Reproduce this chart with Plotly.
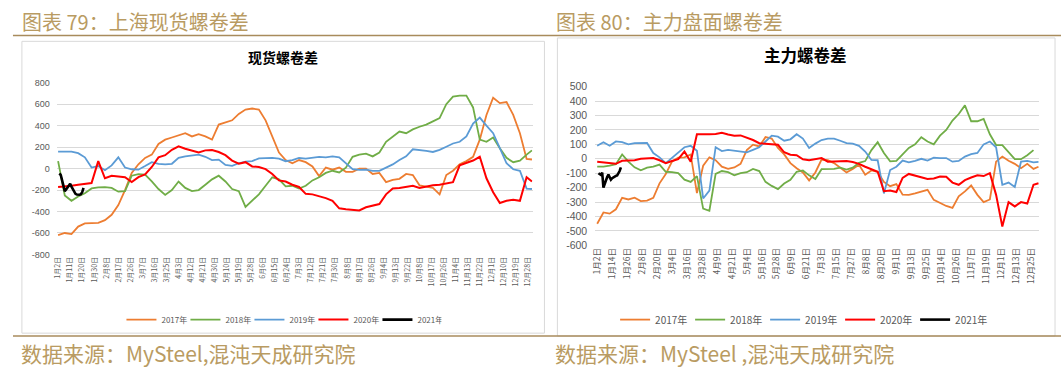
import datetime as dt
import plotly.graph_objects as go

W, H = 1061, 374

# ---------------- categories (calendar days, holidays removed) ----------------
excluded = {(1, 28), (5, 1)} | {(10, d) for d in range(1, 8)}
cats = []
_d = dt.date(2019, 1, 2)
while _d.year == 2019:
    if (_d.month, _d.day) not in excluded:
        cats.append(f"{_d.month}月{_d.day}日")
    _d += dt.timedelta(days=1)

left_ticks = ["1月2日", "1月11日", "1月20日", "1月30日", "2月8日", "2月17日", "2月26日", "3月7日",
              "3月16日", "3月25日", "4月3日", "4月12日", "4月21日", "4月30日", "5月10日", "5月19日",
              "5月28日", "6月6日", "6月15日", "6月24日", "7月3日", "7月12日", "7月21日", "7月30日",
              "8月8日", "8月17日", "8月26日", "9月4日", "9月13日", "9月22日", "10月8日", "10月17日",
              "10月26日", "11月4日", "11月13日", "11月22日", "12月1日", "12月10日", "12月19日", "12月28日"]
right_ticks = ["1月2日", "1月14日", "1月26日", "2月8日", "2月20日", "3月4日", "3月16日", "3月28日",
               "4月9日", "4月21日", "5月4日", "5月16日", "5月28日", "6月9日", "6月21日", "7月3日",
               "7月15日", "7月27日", "8月8日", "8月20日", "9月1日", "9月13日", "9月25日", "10月14日",
               "10月26日", "11月7日", "11月19日", "12月1日", "12月13日", "12月25日"]

grid = cats[::5] + [cats[-1]]      # sampling dates for 2017-2020
grid21 = cats[1:20]                # sampling dates for 2021

years = ["2017年", "2018年", "2019年", "2020年", "2021年"]
colors = ["#ED7D31", "#70AD47", "#5B9BD5", "#FF0000", "#000000"]

# ---------------- 现货螺卷差 (left) ----------------
spot_2017 = [-620, -600, -610, -540, -510, -510, -505, -480, -430, -340,
             -200, -40, 40, 100, 130, 230, 270, 290, 310, 330,
             300, 320, 300, 270, 410, 430, 450, 510, 550, 560,
             550, 450, 300, 150, 80, 50, 80, 60, 20, -70,
             10, -10, 10, -30, -30, 0, 0, -50, -40, -126,
             -105, -95, -50, -60, -156, -165, -180, -240, -60, -20,
             40, 70, 110, 270, 500, 660, 610, 620, 500, 330,
             90, 85]
spot_2018 = [70, -250, -300, -260, -230, -185, -175, -172, -180, -215,
             -210, -66, -51, -55, -120, -190, -245, -200, -120, -180,
             -210, -200, -150, -100, -66, -120, -190, -210, -357, -300,
             -240, -160, -81, -100, -165, -160, -185, -160, -110, -80,
             -40, -20, -36, 9, 110, 130, 140, 114, 150, 250,
             300, 345, 330, 365, 390, 410, 440, 470, 600, 670,
             680, 680, 570, 270, 250, 290, 190, 100, 60, 75,
             130, 170]
spot_2019 = [159, 159, 159, 144, 105, 10, 24, -15, 30, 105,
             10, -6, -10, 24, 60, 45, 39, 45, 100, 114,
             125, 130, 110, 80, 84, 35, 25, 50, 65, 70,
             95, 99, 100, 93, 69, 80, 99, 93, 100, 110,
             105, 114, 105, 54, -6, -12, -10, -21, -21, 9,
             39, 80, 114, 180, 174, 165, 155, 174, 204, 234,
             250, 300, 420, 475, 400, 330, 190, 50, -6, -20,
             -186, -190]
spot_2020 = [-171, -168, -160, -150, -140, -135, 70, -90, -66, -75,
             -81, -126, -80, -55, 15, 105, 125, 175, 207, 185,
             165, 150, 170, 174, 155, 125, 75, 45, 60, 20,
             15, -5, -50, -110, -120, -150, -171, -235, -240, -255,
             -275, -300, -370, -378, -385, -390, -360, -345, -330, -240,
             -186, -180, -171, -160, -180, -165, -156, -150, -141, -126,
             30, 50, 75, 110, -90, -220, -320, -300, -290, -300,
             -80, -120]
spot_2021 = [-45, -60, -110, -156, -210, -195, -180, -160, -141, -168,
             -190, -215, -235, -242, -246, -243, -238, -220, -180]

# ---------------- 主力螺卷差 (right) ----------------
fut_2017 = [-450, -372, -380, -350, -271, -282, -270, -293, -290, -270,
            -170, -105, -20, 8, 10, 30, -238, -48, 10, -10,
            -55, -70, -60, -35, 60, 98, 86, 150, 140, 75,
            30, -30, -65, -95, -150, -95, -5, -10, -30, -65,
            -95, -70, -42, -110, -81, -90, -160, -190, -175, -249,
            -250, -240, -226, -215, -285, -305, -327, -340, -260, -226,
            -185, -250, -300, -282, -20, 15, -14, -35, -65, -35,
            -70, -55]
fut_2018 = [-55, -55, -48, -37, 30, -20, -59, -80, -62, -55,
            -40, -90, -93, -100, -145, -160, -120, -345, -360, -105,
            -85, -93, -115, -100, -93, -70, -85, -160, -188, -210,
            -172, -145, -90, -81, -115, -140, -72, -70, -70, -62,
            -75, -62, -28, -16, 60, 115, 40, -18, -14, 30,
            75, 100, 150, 120, 100, 160, 200, 265, 310, 370,
            260, 260, 276, 170, 95, 95, 42, -3, -3, 25,
            60, None]
fut_2019 = [90, 115, 90, 120, 115, 100, 108, 110, 110, 40,
            10, -30, 5, 45, 80, 90, 55, -275, -220, 80,
            53, 62, 55, 53, 45, 62, 80, 120, 160, 153,
            125, 135, 170, 140, 75, 105, 130, 140, 140, 125,
            108, 105, 90, 50, -8, -10, -240, -78, -55, -12,
            -25, -14, 0, -12, 8, 5, 5, -20, -15, 15,
            32, 40, 100, 120, 80, -180, -165, -195, -20, -15,
            -25, -22]
fut_2020 = [-20, -25, -30, -35, -14, -14, -10, 0, 3, 5,
            -10, -30, -15, -3, 50, -20, 170, 168, 170, 172,
            180, 168, 160, 162, 148, 130, 108, 104, 100, 97,
            45, 28, 25, -3, -10, -3, 5, -20, -20, -20,
            -15, -22, -35, -55, -72, -90, -225, -220, -230, -132,
            -105, -118, -126, -140, -137, -123, -125, -165, -180, -148,
            -130, -115, -120, -100, -250, -470, -300, -330, -300, -310,
            -180, -170]
fut_2021 = [-100, -110, -112, -95, -200, -175, -140, -126, -110, -125,
            -145, -135, -128, -122, -118, -115, -104, -85, -60]

spot_series = [spot_2017, spot_2018, spot_2019, spot_2020, spot_2021]
fut_series = [fut_2017, fut_2018, fut_2019, fut_2020, fut_2021]
widths = [1.8, 1.8, 1.8, 2.0, 2.6]

GOLD = "#B99B62"
GOLDLINE = "#A88B5C"
GRAY = "#595959"
CJK = "Noto Sans CJK SC"


def px(x):
    return x / W


def py(y):
    return 1 - y / H


fig = go.Figure()
for i, (name, col) in enumerate(zip(years, colors)):
    xs = grid21 if i == 4 else grid
    fig.add_trace(go.Scatter(x=xs, y=spot_series[i], name=name, mode="lines",
                             line=dict(color=col, width=widths[i]),
                             xaxis="x", yaxis="y", legend="legend"))
for i, (name, col) in enumerate(zip(years, colors)):
    xs = grid21 if i == 4 else grid
    fig.add_trace(go.Scatter(x=xs, y=fut_series[i], name=name, mode="lines",
                             line=dict(color=col, width=widths[i]),
                             xaxis="x2", yaxis="y2", legend="legend2"))

left_y = list(range(-800, 801, 200))
right_y = list(range(-600, 501, 100))

fig.update_layout(
    width=W, height=H,
    margin=dict(l=0, r=0, t=0, b=0),
    paper_bgcolor="white", plot_bgcolor="rgba(0,0,0,0)",
    font=dict(family=CJK, color=GRAY),
    xaxis=dict(domain=[px(52), px(530)], type="category", categoryorder="array",
               categoryarray=cats, range=[-1, 354.4], tickmode="array",
               tickvals=left_ticks, ticktext=left_ticks, tickangle=-90,
               tickfont=dict(size=7, color=GRAY, family=CJK), showgrid=False,
               zeroline=False, showline=False, ticks="", anchor="y"),
    yaxis=dict(domain=[py(256.7), py(79.3)], range=[-800, 800], tickmode="array",
               tickvals=left_y, ticktext=[str(v) for v in left_y],
               tickfont=dict(size=9, color=GRAY, family="Liberation Sans"),
               gridcolor="#D9D9D9", gridwidth=1, zeroline=False, showline=False,
               ticks="", ticklabelstandoff=6, anchor="x"),
    xaxis2=dict(domain=[px(593), px(1039)], type="category", categoryorder="array",
                categoryarray=cats, range=[-1.6, 354.5], tickmode="array",
                tickvals=right_ticks, ticktext=right_ticks, tickangle=-90,
                tickfont=dict(size=8.5, color=GRAY, family=CJK), showgrid=False,
                zeroline=False, showline=False, ticks="", anchor="y2"),
    yaxis2=dict(domain=[py(247.3), py(83.3)], range=[-600, 500], tickmode="array",
                tickvals=right_y, ticktext=[str(v) for v in right_y],
                tickfont=dict(size=10.5, color=GRAY, family="Liberation Sans"),
                gridcolor="#D9D9D9", gridwidth=1, zeroline=False, showline=False,
                ticks="", ticklabelstandoff=7, anchor="x2"),
    legend=dict(orientation="h", x=px(117), y=py(324), xanchor="left", yanchor="middle",
                font=dict(size=8, color=GRAY, family=CJK), itemwidth=30,
                entrywidth=19, entrywidthmode="pixels", bgcolor="rgba(0,0,0,0)"),
    legend2=dict(orientation="h", x=px(613), y=py(324), xanchor="left", yanchor="middle",
                 font=dict(size=10, color=GRAY, family=CJK), itemwidth=30,
                 entrywidth=30, entrywidthmode="pixels", bgcolor="rgba(0,0,0,0)"),
    showlegend=True,
    hovermode=False,
)

shapes = [
    dict(type="rect", xref="paper", yref="paper", x0=px(17), x1=px(542), y0=py(338), y1=py(36.5),
         line=dict(color="#D9D9D9", width=1), fillcolor="rgba(0,0,0,0)", layer="below"),
    dict(type="rect", xref="paper", yref="paper", x0=px(555), x1=px(1055), y0=py(341), y1=py(33),
         line=dict(color="#D9D9D9", width=1), fillcolor="rgba(0,0,0,0)", layer="below"),
    dict(type="line", xref="paper", yref="paper", x0=px(8), x1=px(1061), y0=py(30.5), y1=py(30.5),
         line=dict(color=GOLDLINE, width=1.5)),
    dict(type="line", xref="paper", yref="paper", x0=px(8), x1=px(1061), y0=py(341), y1=py(341),
         line=dict(color=GOLDLINE, width=1.5)),
]
fig.update_layout(shapes=shapes)

ann = [
    dict(text="图表 79：上海现货螺卷差", x=px(15), y=py(15.5), font=dict(size=20, color=GOLD, family=CJK)),
    dict(text="图表 80：主力盘面螺卷差", x=px(552), y=py(15.5), font=dict(size=20, color=GOLD, family=CJK)),
    dict(text="<b>现货螺卷差</b>", x=px(279), y=py(53), xanchor="center",
         font=dict(size=14, color="#000000", family=CJK)),
    dict(text="<b>主力螺卷差</b>", x=px(804), y=py(51), xanchor="center",
         font=dict(size=16.5, color="#000000", family=CJK)),
    dict(text="数据来源：MySteel,混沌天成研究院", x=px(14), y=py(359), font=dict(size=21, color=GOLD, family=CJK)),
    dict(text="数据来源：MySteel ,混沌天成研究院", x=px(551), y=py(359), font=dict(size=21, color=GOLD, family=CJK)),
]
for a in ann:
    a.setdefault("xanchor", "left")
    a.update(xref="paper", yref="paper", yanchor="middle", showarrow=False)
fig.update_layout(annotations=ann)

fig.write_html("out.html", config={"displayModeBar": False},
               post_script="document.body.style.margin='0';document.body.style.padding='0';"
                           "document.body.style.overflow='hidden';")
